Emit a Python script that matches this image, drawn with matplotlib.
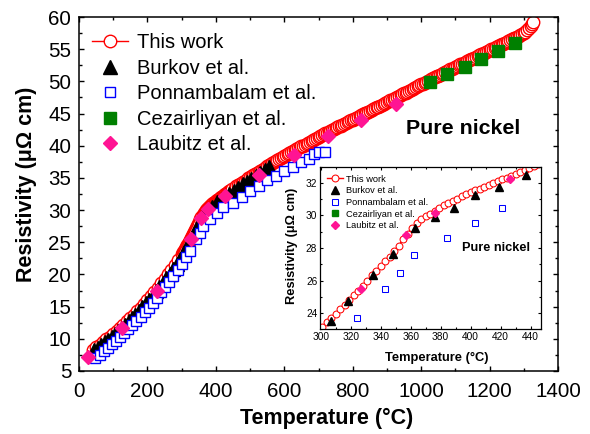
import matplotlib
matplotlib.use("Agg")
import matplotlib.pyplot as plt
from matplotlib.ticker import MultipleLocator

plt.rcParams.update({
    "font.family": ["Liberation Sans", "DejaVu Sans"],
    "axes.linewidth": 1.1,
})

this_work_temp = [
    40, 50, 60, 70, 80, 90, 100, 110, 120, 130, 140, 150, 160, 170, 180, 190,
    200, 210, 220, 230, 240, 250, 260, 270, 280, 290,
    301, 304, 307, 310, 313, 316, 319, 322, 325, 328, 331, 334, 337, 340, 343,
    346, 349, 352, 355, 358, 361, 364, 367, 370, 373, 376, 379, 382, 385, 388,
    391, 394, 397, 400, 403, 406, 409, 412, 415, 418, 421, 424, 427, 430, 433,
    436, 439, 442, 445, 448,
    455, 460, 465, 470, 475, 480, 485, 490, 495, 500, 505, 510, 515, 520, 525,
    530, 535, 540, 545, 550, 555, 560, 565, 570, 575, 580, 585, 590, 595, 600,
    605, 610, 615, 620, 625, 630, 635, 640, 645, 650, 655, 660, 665, 670, 675,
    680, 685, 690, 695, 700, 705, 710, 715, 720, 725, 730, 735, 740, 745, 750,
    755, 760, 765, 770, 775, 780, 785, 790, 795, 800, 805, 810, 815, 820, 825,
    830, 835, 840, 845, 850, 855, 860, 865, 870, 875, 880, 885, 890, 895, 900,
    905, 910, 915, 920, 925, 930, 935, 940, 945, 950, 955, 960, 965, 970, 975,
    980, 985, 990, 995, 1000, 1005, 1010, 1015, 1020, 1025, 1030, 1035, 1040,
    1045, 1050, 1055, 1060, 1065, 1070, 1075, 1080, 1085, 1090, 1095, 1100,
    1105, 1110, 1115, 1120, 1125, 1130, 1135, 1140, 1145, 1150, 1155, 1160,
    1165, 1170, 1175, 1180, 1185, 1190, 1195, 1200, 1205, 1210, 1215, 1220,
    1225, 1230, 1235, 1240, 1245, 1250, 1255, 1260, 1265, 1270, 1275, 1280,
    1285, 1290, 1295, 1300, 1305, 1310, 1315, 1320, 1325, 1328,
]
this_work_rho = [
    8.3, 8.7, 9.1, 9.5, 9.9, 10.35, 10.8, 11.25, 11.7, 12.2, 12.7, 13.2, 13.75,
    14.3, 14.85, 15.45, 16.05, 16.65, 17.3, 17.95, 18.6, 19.3, 20.0, 20.7,
    21.45, 22.2,
    23.15, 23.42, 23.68, 23.95, 24.23, 24.50, 24.79, 25.08, 25.38, 25.69, 25.99,
    26.31, 26.61, 26.90, 27.17, 27.46, 27.83, 28.15, 28.55, 28.89, 29.26, 29.54,
    29.77, 29.96, 30.12, 30.29, 30.48, 30.64, 30.75, 30.87, 31.03, 31.17, 31.31,
    31.43, 31.54, 31.64, 31.75, 31.86, 31.97, 32.10, 32.22, 32.33, 32.44, 32.55,
    32.67, 32.80, 32.92, 33.03, 33.14, 33.25,
    33.50, 33.68, 33.86, 34.04, 34.22, 34.40, 34.57, 34.75, 34.92, 35.10, 35.27,
    35.44, 35.61, 35.78, 35.95, 36.12, 36.28, 36.45, 36.61, 36.78, 36.94, 37.10,
    37.26, 37.42, 37.58, 37.74, 37.89, 38.05, 38.20, 38.36, 38.51, 38.67, 38.82,
    38.98, 39.13, 39.28, 39.43, 39.58, 39.73, 39.88, 40.03, 40.18, 40.32, 40.47,
    40.61, 40.76, 40.90, 41.05, 41.19, 41.34, 41.48, 41.62, 41.76, 41.90, 42.04,
    42.18, 42.31, 42.45, 42.58, 42.72, 42.85, 42.99, 43.12, 43.26, 43.39, 43.53,
    43.66, 43.80, 43.93, 44.07, 44.20, 44.34, 44.47, 44.61, 44.74, 44.88, 45.01,
    45.15, 45.28, 45.42, 45.55, 45.69, 45.82, 45.96, 46.09, 46.23, 46.36, 46.50,
    46.63, 46.77, 46.90, 47.04, 47.17, 47.31, 47.44, 47.58, 47.71, 47.85, 47.98,
    48.12, 48.26, 48.40, 48.54, 48.68, 48.82, 48.96, 49.10, 49.24, 49.38, 49.52,
    49.66, 49.80, 49.94, 50.08, 50.22, 50.36, 50.50, 50.64, 50.77, 50.91, 51.04,
    51.18, 51.31, 51.45, 51.58, 51.72, 51.85, 51.98, 52.11, 52.24, 52.37, 52.50,
    52.63, 52.76, 52.89, 53.02, 53.15, 53.28, 53.41, 53.54, 53.67, 53.80, 53.93,
    54.06, 54.19, 54.32, 54.45, 54.58, 54.71, 54.84, 54.97, 55.10, 55.23, 55.36,
    55.49, 55.62, 55.75, 55.88, 56.01, 56.14, 56.27, 56.40, 56.53, 56.66, 56.79,
    56.92, 57.06, 57.20, 57.37, 57.55, 57.74, 57.95, 58.22, 58.55, 58.95, 59.30,
]

# --- literature data ---
burkov_temp = [45, 55, 65, 75, 85, 95, 105, 115, 125, 135, 145, 155, 165, 175,
               185, 195, 205, 215, 225, 235, 245, 255, 265, 275, 285, 295,
               307, 318, 335, 348, 363, 376, 389, 403, 419, 437,
               452, 465, 478, 491, 504, 517, 530, 543, 556]
burkov_rho = [8.25, 8.65, 9.05, 9.45, 9.87, 10.32, 10.77, 11.22, 11.7, 12.2,
              12.7, 13.22, 13.77, 14.32, 14.9, 15.5, 16.1, 16.72, 17.37, 18.02,
              18.7, 19.4, 20.1, 20.82, 21.57, 22.35,
              23.48, 24.72, 26.32, 27.66, 29.2, 29.9, 30.48, 31.24, 31.75, 32.52,
              32.95, 33.5, 33.98, 34.42, 34.89, 35.33, 35.77, 36.2, 36.62]

ponn_temp = [48, 60, 72, 84, 96, 108, 120, 132, 144, 156, 168, 180, 192, 204,
             216, 228, 240, 252, 264, 276, 288, 300, 312, 324, 343, 353, 362,
             384, 403, 421, 450, 475, 500, 525, 550, 575, 600, 625, 650, 672,
             688, 702, 718]
ponn_rho = [7.05, 7.55, 8.05, 8.6, 9.15, 9.7, 10.25, 10.85, 11.45, 12.1, 12.75,
            13.4, 14.1, 14.85, 15.6, 16.4, 17.2, 18.0, 18.85, 19.75, 20.7,
            21.65, 22.65, 23.69, 25.48, 26.47, 27.6, 28.63, 29.56, 30.44, 31.15,
            32.1, 33.0, 33.8, 34.6, 35.3, 36.0, 36.7, 37.4, 38.0, 38.7, 39.05,
            39.1]

cez_temp = [1027, 1077, 1127, 1176, 1226, 1275]
cez_rho = [49.9, 51.1, 52.25, 53.45, 54.7, 55.9]

laub_temp = [27, 127, 229, 327, 357, 376, 426, 526, 628, 728, 825, 927]
laub_rho = [7.1, 11.65, 17.5, 25.5, 28.83, 30.17, 32.23, 35.5, 38.5, 41.5,
            44.0, 46.55]

RED, BLUE, GREEN, PINK = "#ff0000", "#0000ff", "#008000", "#ff1493"


def draw_series(ax, s):
    """All five datasets; s scales the marker sizes."""
    ax.plot(this_work_temp, this_work_rho, "-o", color=RED, mfc="white",
            mec=RED, ms=9 * s, mew=1.0 * s ** 0.5, lw=1.0, label="This work")
    ax.plot(burkov_temp, burkov_rho, "^", ls="none", color="black",
            ms=10.5 * s, label="Burkov et al.")
    ax.plot(ponn_temp, ponn_rho, "s", ls="none", mfc="white", mec=BLUE,
            ms=7 * s, mew=1.0 * s ** 0.5, label="Ponnambalam et al.")
    ax.plot(cez_temp, cez_rho, "s", ls="none", color=GREEN, ms=8.2 * s,
            label="Cezairliyan et al.")
    ax.plot(laub_temp, laub_rho, "D", ls="none", color=PINK, ms=7.6 * s,
            label="Laubitz et al.")


fig = plt.figure(figsize=(5.9, 4.34), dpi=100)

# main panel
ax = fig.add_axes([79 / 590, 1 - 371 / 434, 479 / 590, 354 / 434])
draw_series(ax, 1.0)
ax.set_xlim(0, 1400)
ax.set_ylim(5, 60)
ax.xaxis.set_major_locator(MultipleLocator(200))
ax.xaxis.set_minor_locator(MultipleLocator(100))
ax.yaxis.set_major_locator(MultipleLocator(5))
ax.yaxis.set_minor_locator(MultipleLocator(2.5))
ax.tick_params(which="both", direction="in", top=True, right=True,
               labelsize=14.8, width=1.0)
ax.tick_params(which="major", length=3.8)
ax.tick_params(which="minor", length=2.2)
ax.tick_params(axis="x", which="both", pad=8)
ax.tick_params(axis="y", which="both", pad=5.5)
ax.set_xlabel("Temperature (°C)", fontsize=15.5, fontweight="bold")
ax.set_ylabel("Resistivity (μΩ cm)", fontsize=15.5, fontweight="bold")
ax.xaxis.set_label_coords(0.518, -0.104)
ax.yaxis.set_label_coords(-0.088, 0.527)
ax.legend(loc="upper left", bbox_to_anchor=(13 / 479, 1 - 16.5 / 354),
          frameon=False, fontsize=14.5, handlelength=1.8, handletextpad=0.45,
          labelspacing=0.32, borderpad=0, borderaxespad=0)
ax.text(956, 42.7, "Pure nickel", fontsize=15.4, fontweight="bold",
        ha="left", va="center")

# inset
axin = fig.add_axes([320 / 590, 1 - 329.3 / 434, 221 / 590, 162.6 / 434])
axin.set_facecolor("white")
draw_series(axin, 0.55)
axin.set_xlim(299.5, 447)
axin.set_ylim(23, 33)
axin.xaxis.set_major_locator(MultipleLocator(20))
axin.xaxis.set_minor_locator(MultipleLocator(10))
axin.yaxis.set_major_locator(MultipleLocator(2))
axin.yaxis.set_minor_locator(MultipleLocator(1))
axin.tick_params(which="both", direction="in", top=True, right=True,
                 labelsize=7.3, width=0.8, pad=2)
axin.tick_params(which="major", length=2.4)
axin.tick_params(which="minor", length=1.5)
for sp in axin.spines.values():
    sp.set_linewidth(0.9)
axin.set_xlabel("Temperature (°C)", fontsize=9.3, fontweight="bold")
axin.set_ylabel("Resistivity (μΩ cm)", fontsize=9.3, fontweight="bold")
axin.xaxis.set_label_coords(0.528, -0.138)
axin.yaxis.set_label_coords(-0.10, 0.513)
axin.legend(loc="upper left", bbox_to_anchor=(6.7 / 221, 1 - 8 / 162.6),
            frameon=False, fontsize=6.7, handlelength=1.8, handletextpad=0.3,
            labelspacing=0.28, borderpad=0, borderaxespad=0)
axin.text(394, 28.0, "Pure nickel", fontsize=9.2, fontweight="bold",
          ha="left", va="center")

fig.savefig("out.png", dpi=100, facecolor="white")
